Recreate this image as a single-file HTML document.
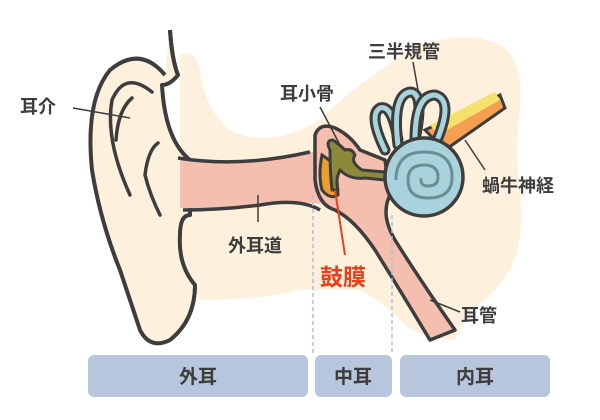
<!DOCTYPE html>
<html><head><meta charset="utf-8"><style>
body{margin:0;background:#fff}
svg{display:block}
text{font-family:"Liberation Sans","Noto Sans CJK JP",sans-serif;font-weight:bold;fill:#3d3d3d}
</style></head><body>
<svg width="600" height="420" viewBox="0 0 600 420" xmlns="http://www.w3.org/2000/svg">
<path d="M180 55 Q195 48 200 70 Q205 110 230 130 Q270 150 320 120 Q360 80 420 45 Q470 30 500 45 Q525 60 520 110 Q515 150 520 190 Q525 240 510 270 Q490 300 470 310 L455 340 Q420 340 400 320 Q380 300 360 290 L300 290 Q260 300 200 300 L180 260 Z" fill="#fdf0dc"/>
<path d="M170 30 Q172 60 178 75 Q170 85 162 85 Q165 140 190 160 L190 215 Q180 215 180 235 Q178 265 195 285 Q195 320 170 340 Q150 350 140 330 Q130 300 120 270 Q100 220 92 170 Q85 100 110 70 Q140 45 165 75" fill="#fdf0dc" stroke="#3d3d3d" stroke-width="4" stroke-linejoin="round"/>
<path d="M170 30 Q172 60 178 75" fill="none" stroke="#3d3d3d" stroke-width="4"/>
<path d="M152 92 Q125 70 112 100 Q105 140 130 195" fill="none" stroke="#3d3d3d" stroke-width="3.5" stroke-linecap="round"/>
<path d="M132 98 Q118 110 116 140" fill="none" stroke="#3d3d3d" stroke-width="3.5" stroke-linecap="round"/>
<path d="M158 143 Q148 150 145 175 Q150 195 160 215" fill="none" stroke="#3d3d3d" stroke-width="3.5" stroke-linecap="round"/>
<path d="M180 160 Q240 168 310 152 Q325 150 330 160 L330 205 Q300 200 260 205 Q220 210 180 208 Z" fill="#f5bfb0"/>
<path d="M178 158 Q240 168 310 152" fill="none" stroke="#3d3d3d" stroke-width="3.5"/>
<path d="M183 210 Q220 210 260 205 Q300 198 320 210" fill="none" stroke="#3d3d3d" stroke-width="3.5"/>
<path d="M315 135 Q320 122 335 128 Q350 135 360 150 L385 160 L390 195 Q380 215 395 240 Q420 280 455 330 L430 340 Q400 290 375 250 Q355 220 335 210 Q318 205 315 180 Z" fill="#f5bfb0" stroke="#3d3d3d" stroke-width="3.5" stroke-linejoin="round"/>
<path d="M322 155 Q318 175 322 190 Q330 200 338 195 L336 165 Z" fill="#e9a030" stroke="#3d3d3d" stroke-width="3"/>
<path d="M330 150 Q325 140 333 140 Q340 145 345 150 Q352 148 355 155 Q350 162 362 170 L385 172 L385 180 L365 178 Q350 180 340 170 Q335 180 338 190 L332 190 Q330 172 330 150 Z" fill="#8c8a3a" stroke="#3d3d3d" stroke-width="3" stroke-linejoin="round"/>
<path d="M425 130 L500 95 L505 108 L445 150 Z" fill="#f5a050" stroke="#3d3d3d" stroke-width="3"/>
<path d="M430 125 L495 92 L500 100 L438 135 Z" fill="#f6e070"/>
<!-- semicircular canals as loops -->
<g fill="none" stroke-linecap="round">
<path d="M385 150 Q368 115 380 108 Q392 104 398 140" stroke="#3d3d3d" stroke-width="11"/>
<path d="M385 150 Q368 115 380 108 Q392 104 398 140" stroke="#a9d3dc" stroke-width="5"/>
<path d="M398 145 Q392 95 410 92 Q425 92 415 140" stroke="#3d3d3d" stroke-width="11"/>
<path d="M398 145 Q392 95 410 92 Q425 92 415 140" stroke="#a9d3dc" stroke-width="5"/>
<path d="M415 140 Q415 95 435 95 Q455 100 435 145" stroke="#3d3d3d" stroke-width="11"/>
<path d="M415 140 Q415 95 435 95 Q455 100 435 145" stroke="#a9d3dc" stroke-width="5"/>
</g>
<circle cx="424" cy="177" r="39" fill="#a9d3dc" stroke="#3d3d3d" stroke-width="3.5"/>
<path d="M396 180 Q396 152 424 152 Q452 152 452 177 Q452 198 428 198 Q408 198 408 180 Q408 165 424 165 Q438 165 438 177 Q438 186 428 186 Q420 186 421 178" fill="none" stroke="#6b8e94" stroke-width="3"/>
<line x1="313" y1="195" x2="313" y2="355" stroke="#a8c0e0" stroke-width="1.5" stroke-dasharray="4 3"/>
<line x1="392" y1="215" x2="392" y2="355" stroke="#a8c0e0" stroke-width="1.5" stroke-dasharray="4 3"/>
<g stroke="#3d3d3d" stroke-width="1.5" fill="none">
<line x1="73" y1="108" x2="130" y2="118"/>
<line x1="258" y1="195" x2="258" y2="222"/>
<line x1="320" y1="107" x2="340" y2="145"/>
<line x1="413" y1="62" x2="418" y2="90"/>
<line x1="465" y1="140" x2="485" y2="170"/>
<line x1="430" y1="300" x2="460" y2="312"/>
</g>
<line x1="335" y1="190" x2="345" y2="255" stroke="#e8401c" stroke-width="2"/>
<text x="20" y="113" font-size="18">耳介</text>
<text x="368" y="58" font-size="18">三半規管</text>
<text x="280" y="100" font-size="18">耳小骨</text>
<text x="482" y="192" font-size="18">蝸牛神経</text>
<text x="228" y="252" font-size="18">外耳道</text>
<text x="320" y="285" font-size="23" style="fill:#e8401c">鼓膜</text>
<text x="461" y="322" font-size="18">耳管</text>
<rect x="88" y="355" width="220" height="42" rx="6" fill="#b7c6dc"/>
<rect x="315" y="355" width="77" height="42" rx="6" fill="#b7c6dc"/>
<rect x="400" y="355" width="150" height="42" rx="6" fill="#b7c6dc"/>
<text x="198" y="383" font-size="19" text-anchor="middle">外耳</text>
<text x="353" y="383" font-size="19" text-anchor="middle">中耳</text>
<text x="475" y="383" font-size="19" text-anchor="middle">内耳</text>
</svg>
</body></html>
